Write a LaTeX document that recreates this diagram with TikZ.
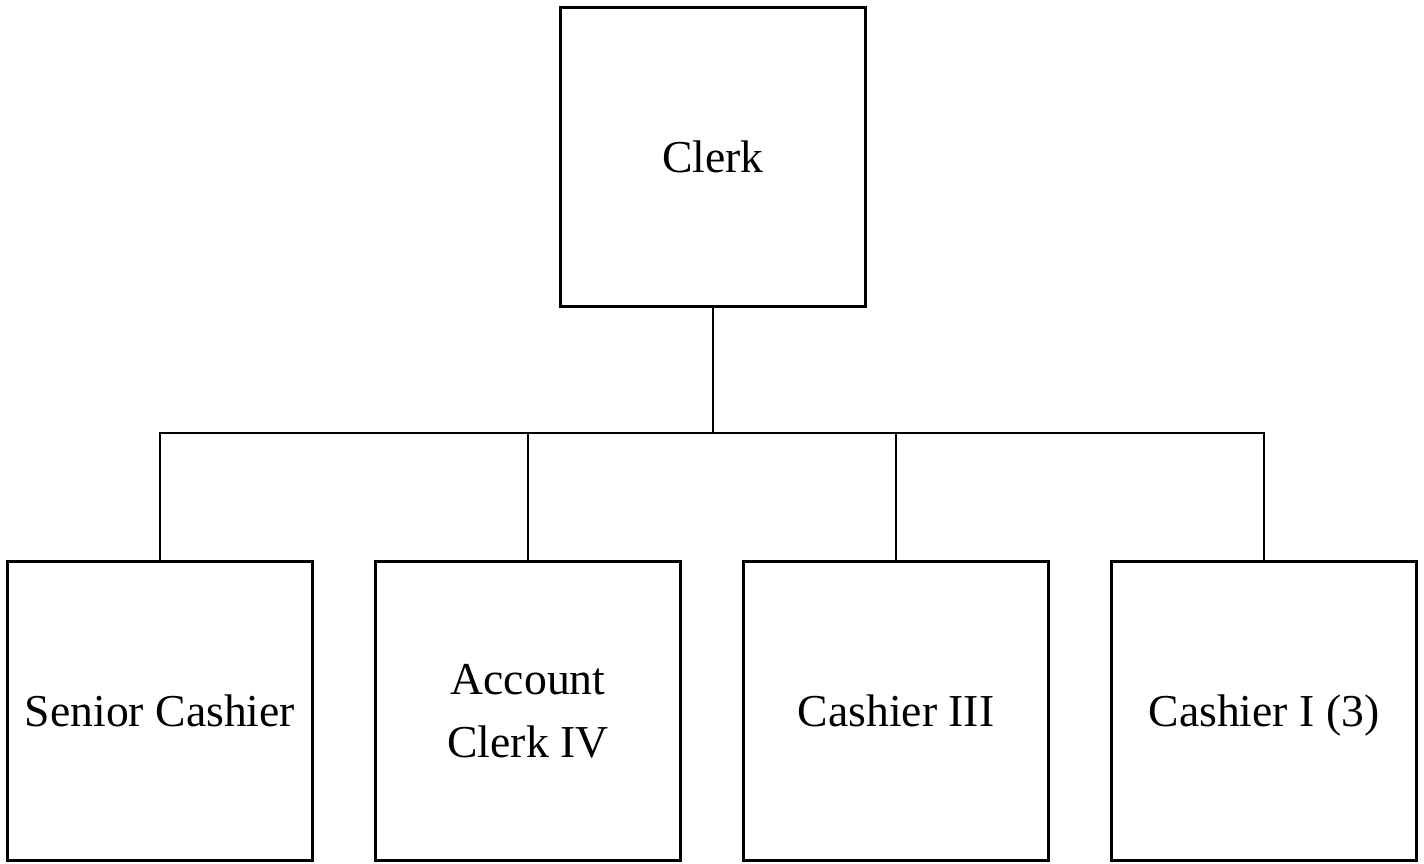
\documentclass[tikz,border=0pt]{standalone}
\usepackage{fontspec}
\setmainfont{Liberation Serif}
\begin{document}
\begin{tikzpicture}[x=0.02cm, y=-0.02cm,
        post/.style={draw, line width=1.6pt, minimum width=6.1cm, minimum height=5.98cm,
                     align=center, text depth=0pt, font=\fontsize{26}{36}\selectfont},
        link/.style={line width=1.4pt}]
                \useasboundingbox (0, 0) rectangle (1424, 863);

                \node[post] (clerk) at (713, 157) {Clerk};

                \coordinate (bar) at (713, 433);

                \node[post] (senior) at (160, 711) {Senior Cashier};
                \node[post] (account) at (528, 711) {Account\\Clerk IV};
                \node[post] (cashthree) at (896, 711) {Cashier III};
                \node[post] (cashone) at (1264, 711) {Cashier I (3)};

                % \draw (clerk) -- (account);

                \draw[link] (clerk.south) -- (bar);
                \draw[link] (senior.north) |- (bar) -| (cashone.north);
                \draw[link] (account.north) -- (account.north |- bar);
                \draw[link] (cashthree.north) -- (cashthree.north |- bar);
            \end{tikzpicture}
\end{document}
